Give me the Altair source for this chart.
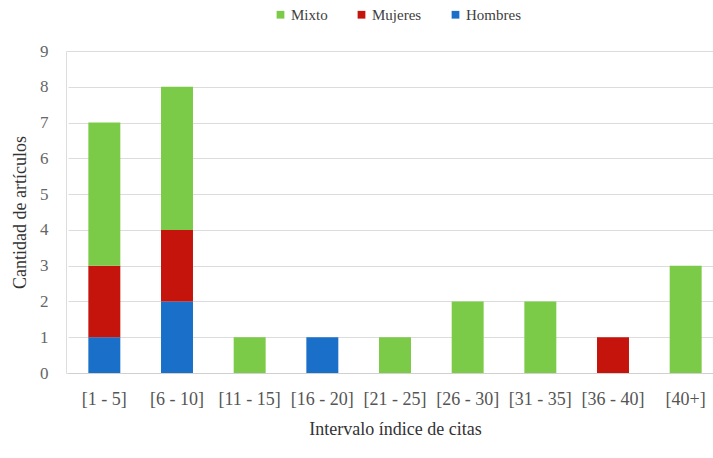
import altair as alt
import pandas as pd

# Citation-index intervals and article counts by author gender composition
intervalos = ["[1 - 5]", "[6 - 10]", "[11 - 15]", "[16 - 20]", "[21 - 25]",
              "[26 - 30]", "[31 - 35]", "[36 - 40]", "[40+]"]
hombres = [1, 2, 0, 1, 0, 0, 0, 0, 0]
mujeres = [2, 2, 0, 0, 0, 0, 0, 1, 0]
mixto = [4, 4, 1, 0, 1, 2, 2, 0, 3]

grupos = ["Mixto", "Mujeres", "Hombres"]
colores = ["#7ccb48", "#c4140c", "#1a70c8"]
orden_pila = {"Hombres": 0, "Mujeres": 1, "Mixto": 2}

rows = []
for grupo, valores in (("Hombres", hombres), ("Mujeres", mujeres), ("Mixto", mixto)):
    for intervalo, v in zip(intervalos, valores):
        if v > 0:
            rows.append({"intervalo": intervalo, "grupo": grupo,
                         "cantidad": v, "orden": orden_pila[grupo]})
df = pd.DataFrame(rows)

FONT = "Liberation Serif"

chart = alt.Chart(df).mark_bar().encode(
    x=alt.X("intervalo:N", sort=intervalos,
            scale=alt.Scale(domain=intervalos, range=[2, 656],
                            paddingInner=0.56, paddingOuter=0.28),
            axis=alt.Axis(title="Intervalo índice de citas", labelAngle=0,
                          ticks=False, domainColor="#d0d0d0", labelPadding=17,
                          titlePadding=12, labelFontSize=18, titleFontSize=18,
                          labelColor="#555555", titleColor="#333333",
                          titleFontWeight="normal")),
    y=alt.Y("cantidad:Q", stack="zero",
            scale=alt.Scale(domain=[0, 9]),
            axis=alt.Axis(title="Cantidad de artículos", values=list(range(10)),
                          domain=False, ticks=False, labelPadding=18,
                          gridColor="#dcdcdc", titlePadding=10,
                          labelFontSize=17, titleFontSize=18,
                          labelColor="#666666", titleColor="#333333",
                          titleFontWeight="normal")),
    color=alt.Color("grupo:N",
                    scale=alt.Scale(domain=grupos, range=colores),
                    legend=alt.Legend(title=None, orient="none", direction="horizontal",
                                      legendX=207, legendY=-44, symbolType="square",
                                      symbolSize=60, labelFontSize=15,
                                      labelColor="#404040", columnPadding=26,
                                      symbolOffset=0, labelOffset=3)),
    order=alt.Order("orden:Q"),
).properties(
    width=647, height=322,
    padding={"left": 66, "top": 51, "right": 0, "bottom": 85},
    autosize=alt.AutoSizeParams(type="none"),
).configure_view(stroke=None).configure(background="white", font=FONT)

chart.save("out.html", embed_options={"renderer": "svg", "actions": False})
